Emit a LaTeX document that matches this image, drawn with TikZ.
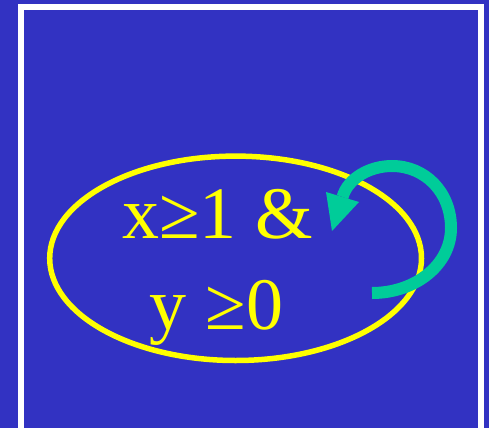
\documentclass[tikz,border=0pt]{standalone}
\usepackage{fontspec}
\setmainfont{Liberation Serif}
\usetikzlibrary{shapes.geometric}
\definecolor{bgblue}{RGB}{50,50,194}
\definecolor{arrowgreen}{RGB}{0,204,153}
\definecolor{textyellow}{RGB}{255,255,0}
\begin{document}
\begin{tikzpicture}[x=1pt,y=-1pt,
  frame/.style={draw=white,line width=6pt},
  oval/.style={draw=textyellow,line width=5.5pt,ellipse,inner sep=0pt},
  label/.style={text=textyellow,font=\fontsize{74}{80}\selectfont,anchor=base,inner sep=0pt},
  loop/.style={draw=arrowgreen,line width=12pt,line cap=butt}]
\useasboundingbox (0,0) rectangle (489,428);
\fill[bgblue] (0,0) rectangle (489,428);
\draw[frame] (21,7) rectangle (480.5,432);
\node[oval,minimum width=371.8pt,minimum height=204.4pt] (ell) at (235.6,258.3) {};
\node[label] (l1) at (217.5,238) {x≥1 \&};
\node[label] (l2) at (216.5,329) {y ≥0};
\coordinate (tail) at (372,293);
\coordinate (shaftend) at (342.5,197);
\draw[loop] (tail) .. controls (415,293) and (451,265) .. (451,228)
  .. controls (451,192) and (425,166) .. (392,166)
  .. controls (370,166) and (348,178) .. (shaftend);
\fill[arrowgreen] (332,231) -- (326,192) -- (359,202) -- cycle;
\end{tikzpicture}
\end{document}
